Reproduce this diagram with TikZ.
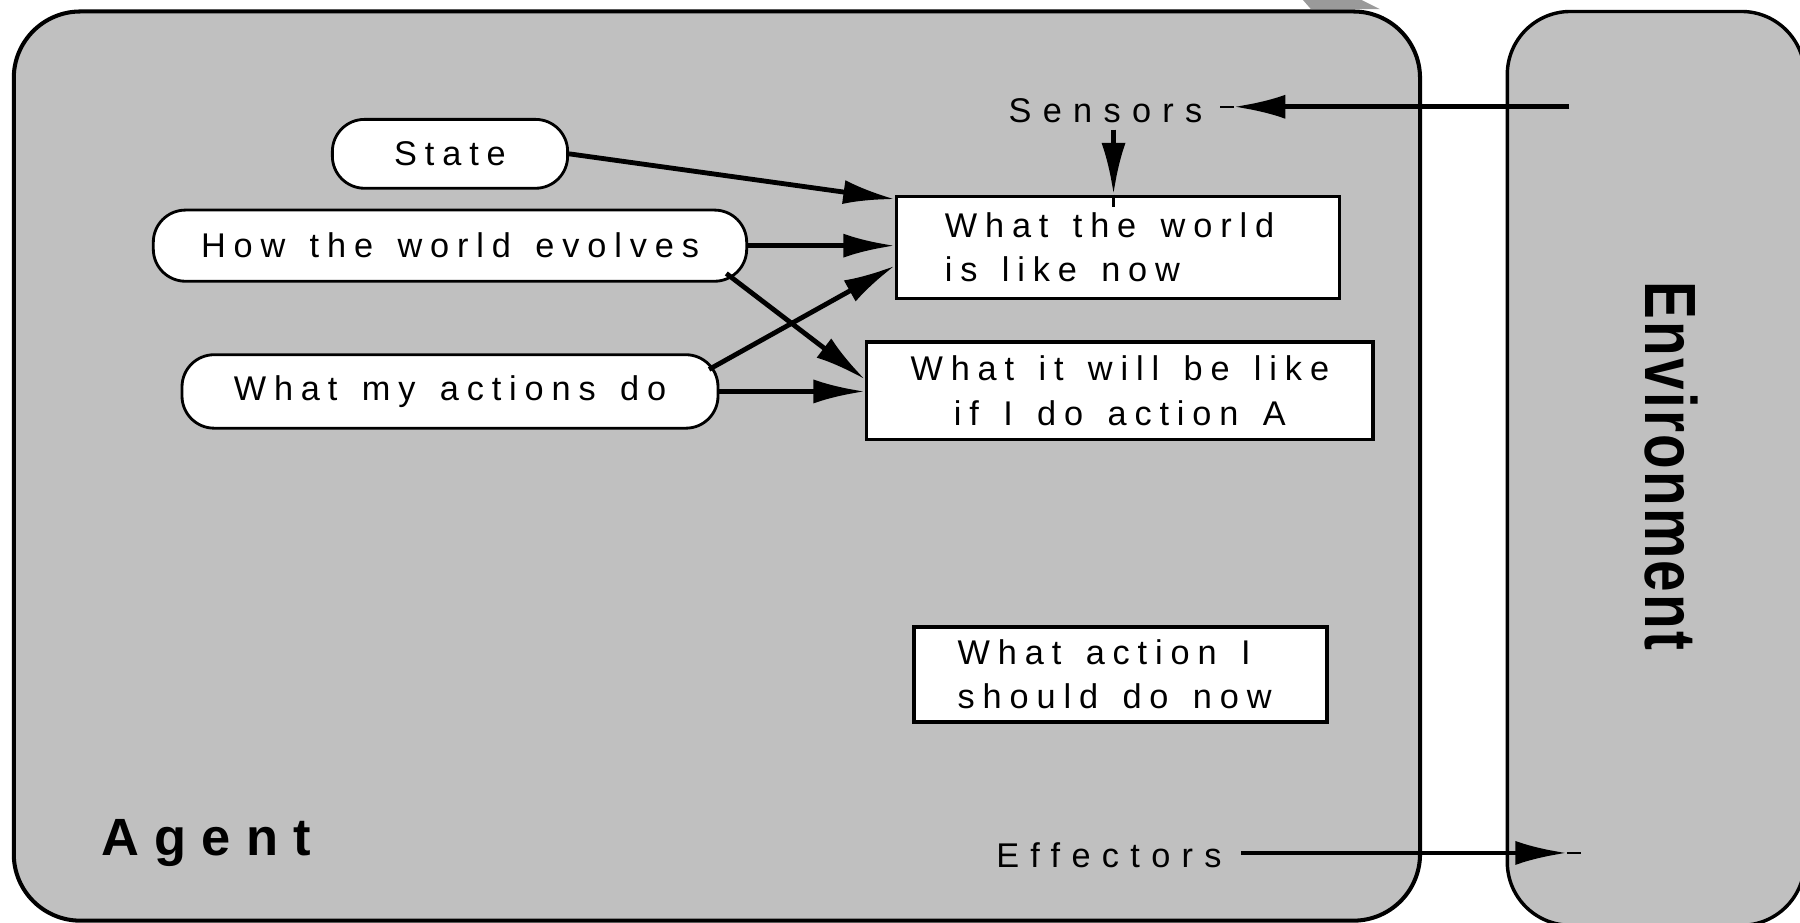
\documentclass[tikz,border=0pt]{standalone}
\usepackage{fontspec}
\usepackage{graphicx}
\setmainfont{Liberation Sans}[LetterSpace=23,WordSpace=1.4]
\newfontfamily\portfont{Liberation Sans}[LetterSpace=33]
\newfontfamily\titlefont{Liberation Sans}[LetterSpace=29]
\newfontfamily\envfont{Liberation Sans}[LetterSpace=4]
\usetikzlibrary{arrows.meta,calc}

\definecolor{panel}{HTML}{C0C0C0}
\definecolor{sliver}{HTML}{9A9A9A}

\begin{document}
\begin{tikzpicture}[x=0.02cm,y=-0.02cm,
  txt/.style={font=\fontsize{17}{22}\selectfont},
  oval/.style={draw, fill=white, line width=1.4pt, rounded corners=0.56cm, inner sep=0pt, txt},
  kbox/.style={draw, fill=white, line width=1.7pt, inner sep=0pt, txt},
  flow/.style={line width=2.4pt, -{Latex[length=0.9cm,width=0.42cm]}},
  stub/.style={line width=1.1pt},
  port/.style={inner sep=0pt, font=\fontsize{17}{20}\selectfont\portfont}
]
\useasboundingbox (0,0) rectangle (1568,804);

% the two panels
\filldraw[fill=panel, line width=2pt, rounded corners=1.16cm] (12,10) rectangle (1237,802);
\filldraw[fill=panel, line width=1.7pt, rounded corners=1.1cm] (1313,10) rectangle (1572,806);
\fill[sliver] (1135,0) -- (1186,0) -- (1202,8) -- (1142,8) -- cycle;

% knowledge ovals
\node[oval, minimum width=4.1cm, minimum height=1.2cm] (state) at (392,134) {State};
\node[oval, minimum width=10.34cm, minimum height=1.24cm] (how) at (392,214) {How the world evolves};
\node[oval, minimum width=9.34cm, minimum height=1.28cm] (actions) at (392,341) {What my actions do};

% reasoning boxes (text blocks nudged left inside the boxes)
\node[kbox, align=left, minimum width=7.72cm, minimum height=1.78cm] (world) at (974,215.5) {What the world\hspace*{0.3cm}\\is like now};
\node[kbox, align=center, minimum width=8.82cm, minimum height=1.7cm] (will) at (975.5,340.5) {What it will be like\\if I do action A};
\node[kbox, align=left, minimum width=7.2cm, minimum height=1.66cm] (act) at (976,587.5) {What action I\\should do now\hspace*{0.2cm}};

% labels
\node[port] (sensors) at (963,96) {Sensors};
\node[port] (effectors) at (966,745) {Effectors};
\node[inner sep=0pt, anchor=base west, font=\fontsize{26}{26}\selectfont\titlefont\bfseries] (agent) at (88,745) {Agent};
\node[rotate=-90, anchor=base, inner sep=0pt, font=\fontsize{36}{36}\selectfont\envfont\bfseries] (envtitle) at (1433,406) {\scalebox{0.78}[1]{Environment}};

% percept and action channels
\coordinate (percept) at (1367,93);
\coordinate (pin) at ($(percept -| sensors.east)+(27,0)$);
\draw[flow] (percept) -- (pin);
\draw[stub] (pin) -- ++(-12,0);

\coordinate (ds) at ($(sensors.south)+(7,6)$);
\draw[flow] (ds) -- (ds |- world.north);
\draw[stub] (ds |- world.north) -- ++(0,11);

\coordinate (deed) at (1365,743);
\draw[flow] ($(deed -| effectors.east)+(17,0)$) -- (deed);
\draw[stub] (deed) -- ++(12,0);

% internal connections
\draw[flow] (state.east) -- ($(world.north west)+(0,4)$);
\draw[flow] (how.east) -- (how.east -| world.west);
\draw[flow] ($(how.south east)+(-19,-8)$) -- ($(will.west)+(0,-10)$);
\draw[flow] ($(actions.north east)+(-9,14)$) -- ($(world.west)+(0,16)$);
\draw[flow] (actions.east) -- (actions.east -| will.west);
\end{tikzpicture}
\end{document}
